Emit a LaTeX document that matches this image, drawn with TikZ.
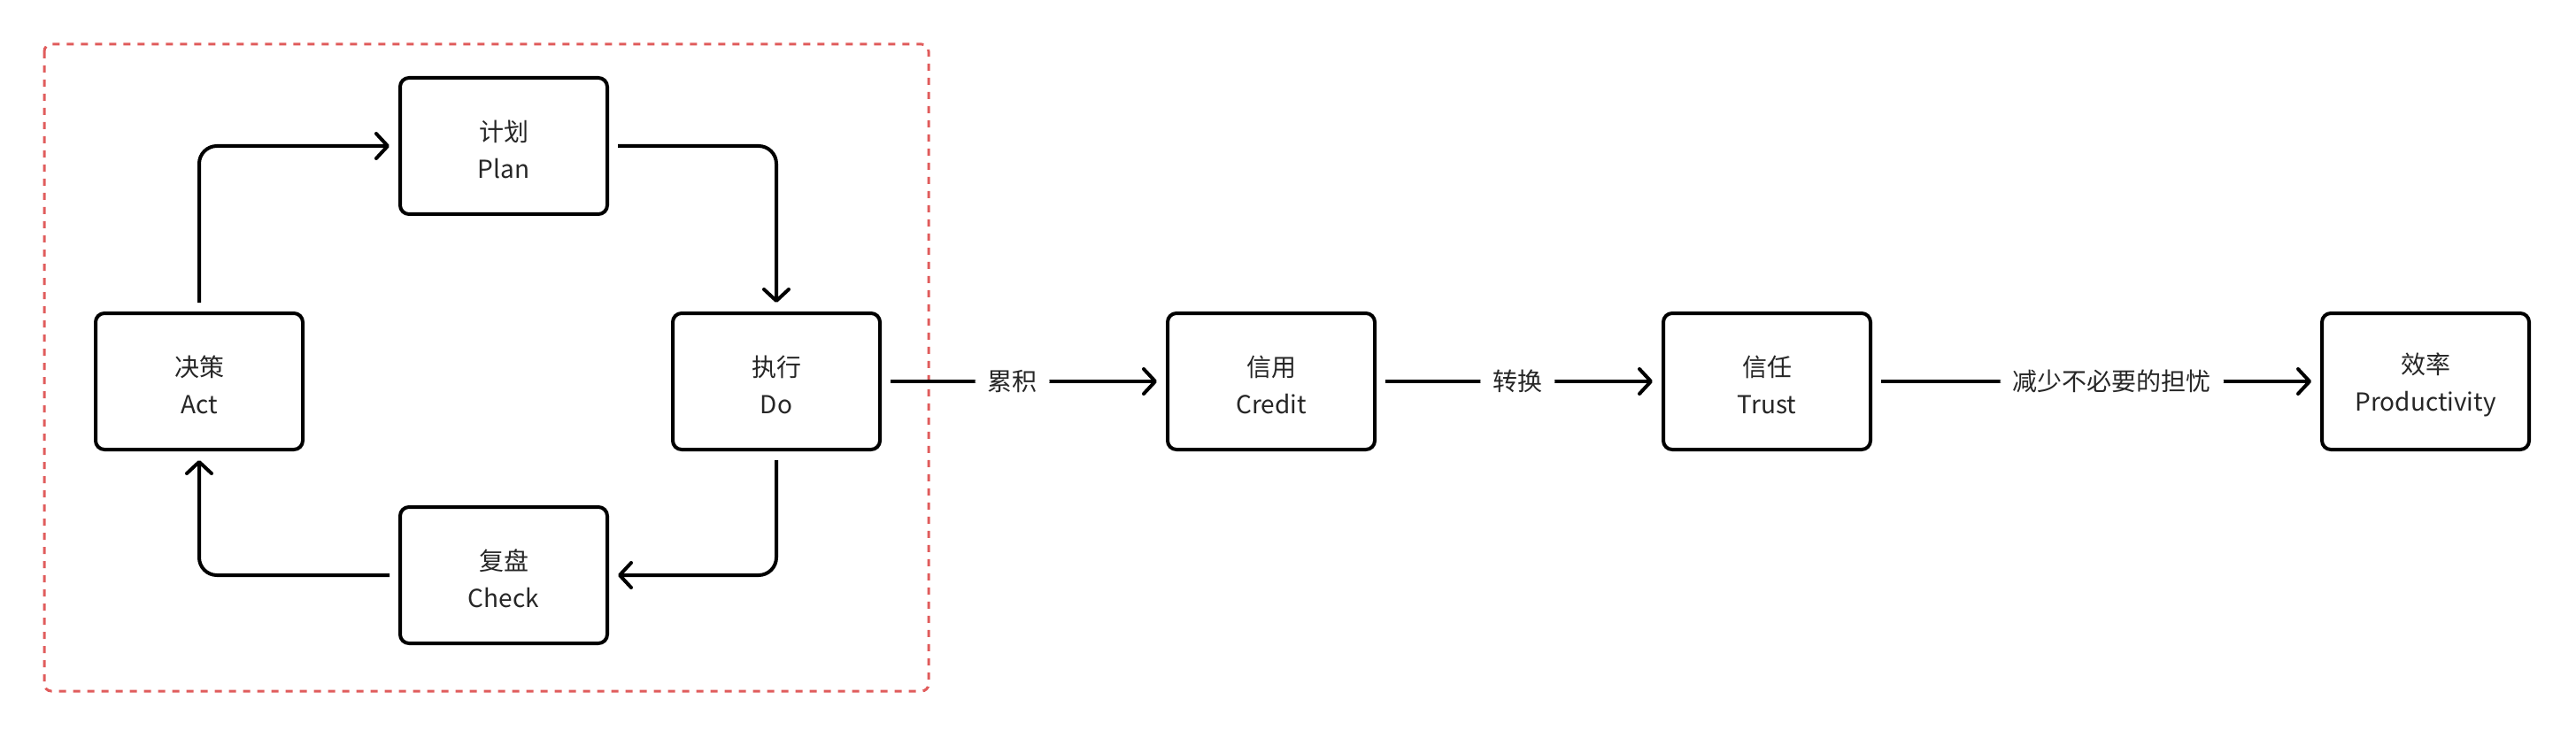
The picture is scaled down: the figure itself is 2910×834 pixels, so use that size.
\documentclass[tikz,border=0pt]{standalone}
\usepackage{fontspec}
\setmainfont{Noto Sans CJK SC}
\usetikzlibrary{arrows.meta}
\definecolor{dashred}{RGB}{224,92,92}
\newcommand{\topstrut}{\rule{0pt}{16pt}}
\tikzset{
  box/.style={draw=black, line width=2pt, rounded corners=5pt, minimum width=117pt, minimum height=77pt, align=center, inner sep=0pt, font=\fontsize{14pt}{21pt}\selectfont, text=black!85},
  conn/.style={draw=black, line width=2pt, rounded corners=10pt, shorten <=5pt, shorten >=5pt, -{Straight Barb[length=6.5pt,width=14pt,round]}},
  lbl/.style={fill=white, inner xsep=7pt, inner ysep=2pt, font=\fontsize{14pt}{16pt}\selectfont, text=black!85},
  dashbox/.style={draw=dashred, line width=1.5pt, dash pattern=on 4pt off 4pt, rounded corners=4pt}
}
\begin{document}
\begin{tikzpicture}[x=0.5pt, y=-0.5pt]
\useasboundingbox (0,0) rectangle (2910,834);
\draw[dashbox] (50,50) rectangle (1049,781);
\node[box] (plan) at (569,165) {\topstrut 计划\\Plan};
\node[box] (act) at (225,431) {\topstrut 决策\\Act};
\node[box] (do) at (877,431) {\topstrut 执行\\Do};
\node[box] (check) at (569,650) {\topstrut 复盘\\Check};
\node[box] (credit) at (1436,431) {\topstrut 信用\\Credit};
\node[box] (trust) at (1996,431) {\topstrut 信任\\Trust};
\node[box] (prod) at (2740,431) {\topstrut 效率\\Productivity};
\draw[conn] (act.north) |- (plan.west);
\draw[conn] (plan.east) -| (do.north);
\draw[conn] (do.south) |- (check.east);
\draw[conn] (check.west) -| (act.south);
\draw[conn] (do.east) -- node[lbl, pos=0.46] (l1) {累积} (credit.west);
\draw[conn] (credit.east) -- node[lbl, pos=0.495] (l2) {转换} (trust.west);
\draw[conn] (trust.east) -- node[lbl, pos=0.535] (l3) {减少不必要的担忧} (prod.west);
\end{tikzpicture}
\end{document}
